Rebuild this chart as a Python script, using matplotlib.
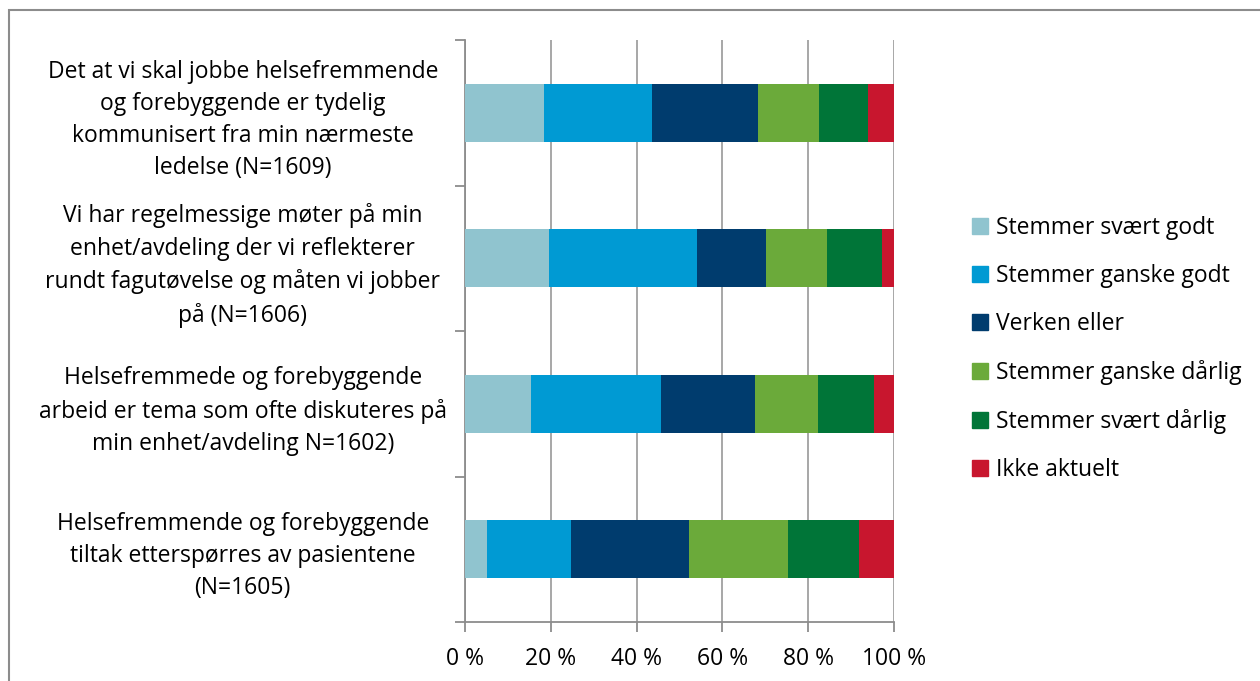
import matplotlib
matplotlib.use("Agg")
import matplotlib.pyplot as plt
import matplotlib.ticker as ticker
from matplotlib.patches import Rectangle, Patch
import numpy as np

plt.rcParams['font.family'] = ['Open Sans', 'DejaVu Sans']

questions = [
    "Det at vi skal jobbe helsefremmende\nog forebyggende er tydelig\nkommunisert fra min nærmeste\nledelse (N=1609)",
    "Vi har regelmessige møter på min\nenhet/avdeling der vi reflekterer\nrundt fagutøvelse og måten vi jobber\npå (N=1606)",
    "Helsefremmede og forebyggende\narbeid er tema som ofte diskuteres på\nmin enhet/avdeling N=1602)",
    "Helsefremmende og forebyggende\ntiltak etterspørres av pasientene\n(N=1605)",
]
answers = ["Stemmer svært godt", "Stemmer ganske godt", "Verken eller",
           "Stemmer ganske dårlig", "Stemmer svært dårlig", "Ikke aktuelt"]
colors = ["#90C4CF", "#009AD3", "#003C6E", "#6BAA3A", "#007538", "#C8162E"]

svaert_godt = [18.4, 19.5, 15.4, 5.1]
ganske_godt = [25.2, 34.5, 30.3, 19.5]
verken = [24.8, 16.2, 21.8, 27.7]
ganske_darlig = [14.2, 14.1, 14.7, 23.1]
svaert_darlig = [11.4, 13.0, 13.2, 16.4]
ikke_aktuelt = [6.0, 2.7, 4.6, 8.2]
series = [svaert_godt, ganske_godt, verken, ganske_darlig, svaert_darlig, ikke_aktuelt]

fs = 16.5

fig = plt.figure(figsize=(12.6, 6.81), dpi=100)
fig.patches.append(Rectangle((9/1260, -0.1), 1.2, 1 - 10/681 + 0.1, transform=fig.transFigure,
                             fill=False, edgecolor="#8C8C8C", linewidth=1.5))

ax = fig.add_axes([465/1260, 59/681, 429/1260, 582/681])
ypos = np.arange(len(questions))[::-1]
left = np.zeros(len(questions))
for vals, name, col in zip(series, answers, colors):
    vals = np.array(vals)
    ax.barh(ypos, vals, left=left, height=0.4, color=col, label=name, zorder=3)
    left += vals

ax.set_xlim(0, 100)
ax.set_ylim(-0.5, len(questions) - 0.5)
ax.xaxis.set_major_locator(ticker.MultipleLocator(20))
ax.xaxis.set_major_formatter(ticker.FuncFormatter(lambda v, p: f"{v:.0f} %"))
ax.grid(axis='x', color="#A0A0A0", linewidth=1.3, zorder=0)

ax.set_yticks(np.arange(-0.5, len(questions)))
ax.set_yticklabels([])
ax.set_yticks(ypos, minor=True)
ax.set_yticklabels(questions, minor=True, fontsize=fs, ha='center',
                   multialignment='center', linespacing=1.45)
ax.tick_params(axis='y', which='minor', length=0, pad=160)
ax.tick_params(axis='y', which='major', length=7, color="#8C8C8C", width=1.3)
ax.tick_params(axis='x', length=7, color="#8C8C8C", width=1.3, labelsize=fs, pad=11)

for s in ['top', 'right']:
    ax.spines[s].set_visible(False)
for s in ['left', 'bottom']:
    ax.spines[s].set_color("#8C8C8C")
    ax.spines[s].set_linewidth(1.3)

handles = [Patch(color=c) for c in colors]
fig.legend(handles, answers, loc='center left', bbox_to_anchor=(951/1260, 1 - 349/681),
           frameon=False, fontsize=fs, handlelength=0.7, handleheight=0.7,
           handletextpad=0.35, labelspacing=1.05)

fig.savefig("out.png", dpi=100)
